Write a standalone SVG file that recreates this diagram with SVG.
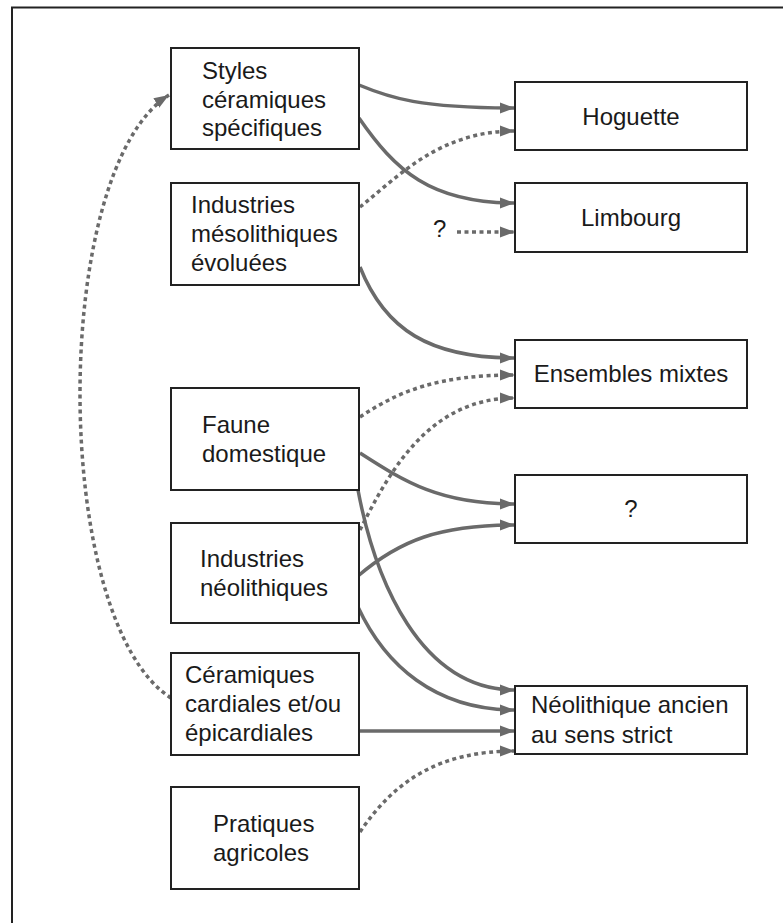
<svg xmlns="http://www.w3.org/2000/svg" width="783" height="923" viewBox="0 0 783 923">
<style>
.box{fill:#fff;stroke:#222;stroke-width:2}
.t{font-family:"Liberation Sans",Arial,sans-serif;font-size:24px;fill:#1a1a1a}
.c{text-anchor:middle}
.s{fill:none;stroke:#6a6a6a;stroke-width:3.5}
.d{fill:none;stroke:#6a6a6a;stroke-width:3.5;stroke-dasharray:4 3.5}
</style>
<defs>
<marker id="ah" markerUnits="userSpaceOnUse" markerWidth="16" markerHeight="12" refX="15" refY="6" orient="auto">
<path d="M0,0.5 L15,6 L0,11.5 z" fill="#6a6a6a"/>
</marker>
</defs>
<rect width="783" height="923" fill="#fff"/>
<path d="M12,923 L12,7.5 L783,7.5" fill="none" stroke="#222" stroke-width="2"/>

<g id="connectors">
<path class="s" d="M359,85 C390,98 420,108 515,108" marker-end="url(#ah)"/>
<path class="s" d="M359,118 C395,170 430,203 515,203" marker-end="url(#ah)"/>
<path class="d" d="M360,207 C400,175 440,131 515,131" marker-end="url(#ah)"/>
<path class="d" d="M457,232 L515,232" marker-end="url(#ah)"/>
<path class="s" d="M360,267 C385,330 430,358 515,358" marker-end="url(#ah)"/>
<path class="d" d="M360,417 C400,390 440,375 515,375" marker-end="url(#ah)"/>
<path class="d" d="M360,530 C390,470 430,398 515,398" marker-end="url(#ah)"/>
<path class="s" d="M360,453 C405,482 440,504 515,504" marker-end="url(#ah)"/>
<path class="s" d="M358,490 C375,580 420,690 515,690" marker-end="url(#ah)"/>
<path class="s" d="M358,576 C400,540 440,525 515,525" marker-end="url(#ah)"/>
<path class="s" d="M358,607 C385,665 435,710 515,710" marker-end="url(#ah)"/>
<path class="s" d="M359,731 L515,731" marker-end="url(#ah)"/>
<path class="d" d="M360,832 C395,780 440,751 515,751" marker-end="url(#ah)"/>
<path class="d" d="M171,698 C50,620 50,170 169,95" marker-end="url(#ah)"/>
</g>

<g id="styles">
<rect class="box" x="171" y="48" width="188" height="101"/>
<text class="t" x="202" y="79">Styles</text>
<text class="t" x="202" y="108">céramiques</text>
<text class="t" x="202" y="136">spécifiques</text>
</g>
<g id="meso">
<rect class="box" x="171" y="183" width="188" height="102"/>
<text class="t" x="191" y="213">Industries</text>
<text class="t" x="191" y="242">mésolithiques</text>
<text class="t" x="191" y="271">évoluées</text>
</g>
<g id="faune">
<rect class="box" x="171" y="388" width="188" height="102"/>
<text class="t" x="202" y="433">Faune</text>
<text class="t" x="202" y="462">domestique</text>
</g>
<g id="neo">
<rect class="box" x="171" y="523" width="188" height="100"/>
<text class="t" x="200" y="567">Industries</text>
<text class="t" x="200" y="596">néolithiques</text>
</g>
<g id="ceramiques">
<rect class="box" x="171" y="653" width="188" height="102"/>
<text class="t" x="185" y="683">Céramiques</text>
<text class="t" x="185" y="712">cardiales et/ou</text>
<text class="t" x="185" y="741">épicardiales</text>
</g>
<g id="pratiques">
<rect class="box" x="171" y="787" width="188" height="102"/>
<text class="t" x="213" y="832">Pratiques</text>
<text class="t" x="213" y="861">agricoles</text>
</g>

<g id="hoguette">
<rect class="box" x="515" y="82" width="232" height="68"/>
<text class="t c" x="631" y="125">Hoguette</text>
</g>
<g id="limbourg">
<rect class="box" x="515" y="183" width="232" height="69"/>
<text class="t c" x="631" y="226">Limbourg</text>
</g>
<g id="q-label">
<text class="t" x="433" y="237">?</text>
</g>
<g id="ensembles">
<rect class="box" x="515" y="340" width="232" height="68"/>
<text class="t c" x="631" y="382">Ensembles mixtes</text>
</g>
<g id="unknown">
<rect class="box" x="515" y="475" width="232" height="68"/>
<text class="t c" x="631" y="517">?</text>
</g>
<g id="neolithique">
<rect class="box" x="515" y="686" width="232" height="68"/>
<text class="t" x="531" y="713">Néolithique ancien</text>
<text class="t" x="531" y="743">au sens strict</text>
</g>
</svg>
